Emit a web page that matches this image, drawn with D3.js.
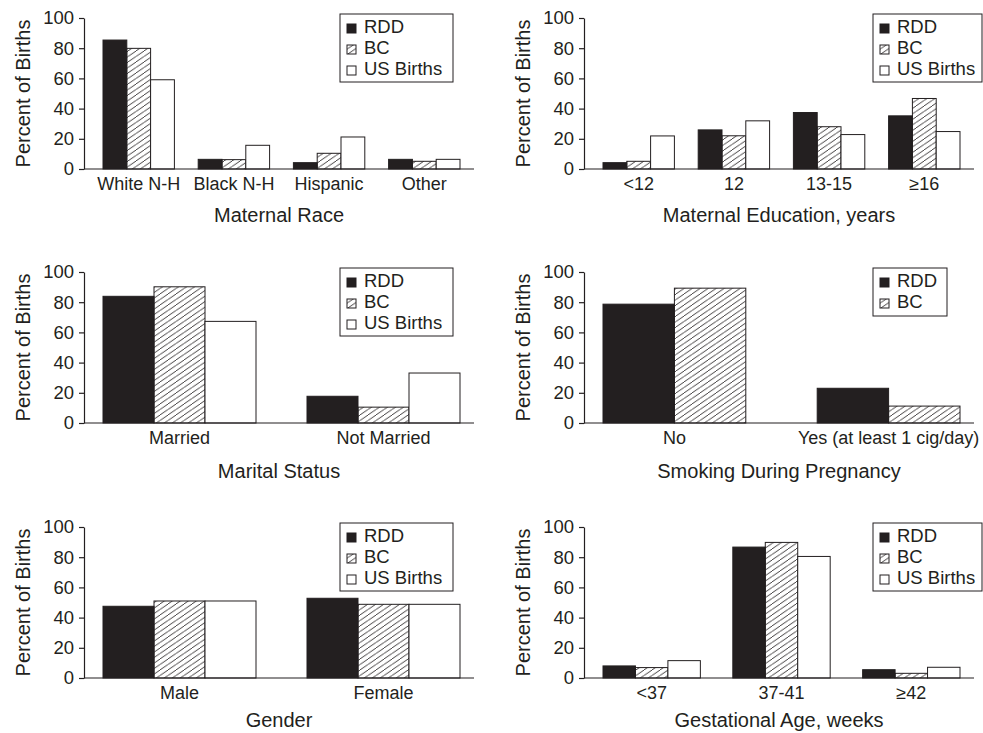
<!DOCTYPE html>
<html>
<head>
<meta charset="utf-8">
<script src="https://cdn.jsdelivr.net/npm/d3@7"></script>
<style>
  body { margin: 0; background: #fff; }
  svg { display: block; font-family: "Liberation Sans", Arial, Helvetica, sans-serif; }
</style>
</head>
<body>
<div id="chart"></div>
<script>
// values (percent of births)
var seriesNames = ["RDD", "BC", "US Births"];
var yTicks = [0, 20, 40, 60, 80, 100];

var raceCats = ["White N-H", "Black N-H", "Hispanic", "Other"];
var raceRDD = [85.4, 6.4, 4.2, 6.4];
var raceBC = [79.9, 6.2, 10.4, 5.1];
var raceUS = [59.1, 15.7, 21.2, 6.4];

var eduCats = ["<12", "12", "13-15", "\u226516"];
var eduRDD = [4.2, 25.9, 37.4, 35.2];
var eduBC = [5.1, 22.0, 28.0, 46.7];
var eduUS = [21.9, 31.9, 22.8, 24.8];

var maritalCats = ["Married", "Not Married"];
var maritalRDD = [83.9, 17.7];
var maritalBC = [90.2, 10.5];
var maritalUS = [67.3, 33.1];

var smokeCats = ["No", "Yes (at least 1 cig/day)"];
var smokeRDD = [78.7, 23.0];
var smokeBC = [89.3, 11.2];

var genderCats = ["Male", "Female"];
var genderRDD = [47.5, 52.8];
var genderBC = [51.0, 48.8];
var genderUS = [51.0, 48.8];

var gestCats = ["<37", "37-41", "\u226542"];
var gestRDD = [8.0, 86.7, 5.5];
var gestBC = [6.9, 89.8, 3.1];
var gestUS = [11.5, 80.5, 7.1];

var titles = ["Maternal Race", "Maternal Education, years", "Marital Status",
              "Smoking During Pregnancy", "Gender", "Gestational Age, weeks"];

var panels = [
    {cats: raceCats, series: [raceRDD, raceBC, raceUS]},
    {cats: eduCats, series: [eduRDD, eduBC, eduUS]},
    {cats: maritalCats, series: [maritalRDD, maritalBC, maritalUS]},
    {cats: smokeCats, series: [smokeRDD, smokeBC]},
    {cats: genderCats, series: [genderRDD, genderBC, genderUS]},
    {cats: gestCats, series: [gestRDD, gestBC, gestUS]}
];

var ink = "#231f20";
var colX = [0, 500];
var rowY = [18, 272, 527];
var titleDy = [53, 55, 49];
var plotH = 151;
var axisX = 84, axisEnd = 474;
var barsL = 103, barsR = 460;

var svg = d3.select("#chart").append("svg")
    .attr("width", 983).attr("height", 733);

svg.append("defs").append("pattern")
    .attr("id", "hatch")
    .attr("patternUnits", "userSpaceOnUse")
    .attr("width", 8).attr("height", 5.5)
    .append("path")
    .attr("d", "M-8,5.5L0,0M0,5.5L8,0M8,5.5L16,0")
    .attr("stroke", ink)
    .attr("stroke-width", 0.9);

var fills = [ink, "url(#hatch)", "#fff"];

panels.forEach(function(p, i) {
    var row = Math.floor(i / 2);
    var g = svg.append("g")
        .attr("transform", "translate(" + colX[i % 2] + "," + rowY[row] + ")");

    var y = d3.scaleLinear().domain([0, 100]).range([plotH, 0]);
    var n = p.series.length;
    var x0 = d3.scaleBand().domain(p.cats).range([barsL, barsR])
        .paddingInner(1 / (n + 1)).paddingOuter(0);
    var x1 = d3.scaleBand().domain(d3.range(n)).range([0, x0.bandwidth()]);

    // bars
    p.cats.forEach(function(c, ci) {
        g.selectAll(null)
            .data(p.series.map(function(s, si) { return {si: si, v: s[ci]}; }))
            .enter().append("rect")
            .attr("x", function(d) { return x0(c) + x1(d.si); })
            .attr("y", function(d) { return y(d.v); })
            .attr("width", x1.bandwidth())
            .attr("height", function(d) { return plotH - y(d.v); })
            .attr("fill", function(d) { return fills[d.si]; })
            .attr("stroke", ink)
            .attr("stroke-width", 1);
    });

    // y axis
    var ya = g.append("g")
        .attr("transform", "translate(" + axisX + ",0)")
        .call(d3.axisLeft(y).tickValues(yTicks).tickSize(5).tickSizeOuter(0).tickPadding(5));
    ya.selectAll("path, line").attr("stroke", ink).attr("stroke-width", 1.2);
    ya.selectAll("text").attr("fill", ink).style("font-size", "18.5px")
        .style("font-family", "'Liberation Sans', Arial, sans-serif");

    // x axis line + category labels
    g.append("line")
        .attr("x1", axisX).attr("x2", axisEnd)
        .attr("y1", plotH).attr("y2", plotH)
        .attr("stroke", ink).attr("stroke-width", 1.2);

    g.selectAll(null).data(p.cats).enter().append("text")
        .attr("x", function(d) { return x0(d) + x0.bandwidth() / 2; })
        .attr("y", plotH + 21)
        .attr("text-anchor", "middle")
        .attr("fill", ink)
        .style("font-size", "18px")
        .text(function(d) { return d; });

    // axis titles
    g.append("text")
        .attr("x", (axisX + axisEnd) / 2)
        .attr("y", plotH + titleDy[row])
        .attr("text-anchor", "middle")
        .attr("fill", ink)
        .style("font-size", "20px")
        .text(titles[i]);

    g.append("text")
        .attr("transform", "translate(30," + plotH / 2 + ") rotate(-90)")
        .attr("text-anchor", "middle")
        .attr("fill", ink)
        .style("font-size", "20px")
        .text("Percent of Births");

    // legend
    var lx = i % 2 === 0 ? 340 : 373;
    var lw = n === 3 ? (i % 2 === 0 ? 113 : 109) : 74;
    var lh = n === 3 ? 68 : 48;
    var leg = g.append("g").attr("transform", "translate(" + lx + ",-4)");
    leg.append("rect")
        .attr("width", lw).attr("height", lh)
        .attr("fill", "#fff").attr("stroke", ink).attr("stroke-width", 1);
    var rows = leg.selectAll(null).data(seriesNames.slice(0, n)).enter().append("g")
        .attr("transform", function(d, k) { return "translate(0," + (19 + k * 21) + ")"; });
    rows.append("rect")
        .attr("x", 7).attr("y", -9).attr("width", 9).attr("height", 9)
        .attr("fill", function(d, k) { return fills[k]; })
        .attr("stroke", ink).attr("stroke-width", 1);
    rows.append("text")
        .attr("x", 24).attr("y", 0)
        .attr("fill", ink)
        .style("font-size", "18.5px")
        .text(function(d) { return d; });
});
</script>
</body>
</html>
